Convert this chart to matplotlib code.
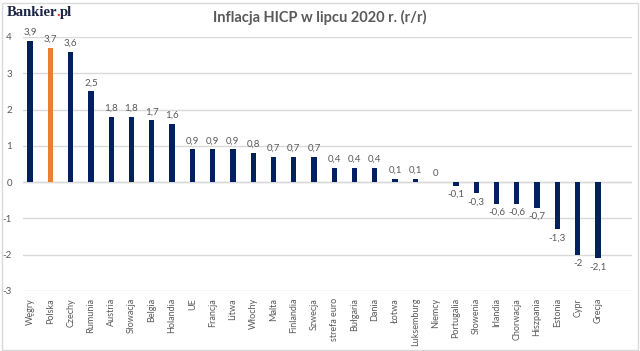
import matplotlib
matplotlib.use("Agg")
import matplotlib.pyplot as plt
from matplotlib.patches import Rectangle

categories = ["Węgry", "Polska", "Czechy", "Rumunia", "Austria", "Słowacja", "Belgia",
              "Holandia", "UE", "Francja", "Litwa", "Włochy", "Malta", "Finlandia",
              "Szwecja", "strefa euro", "Bułgaria", "Dania", "Łotwa", "Luksemburg",
              "Niemcy", "Portugalia", "Słowenia", "Irlandia", "Chorwacja", "Hiszpania",
              "Estonia", "Cypr", "Grecja"]
values = [3.9, 3.7, 3.6, 2.5, 1.8, 1.8, 1.7, 1.6, 0.9, 0.9, 0.9, 0.8, 0.7, 0.7,
          0.7, 0.4, 0.4, 0.4, 0.1, 0.1, 0.0, -0.1, -0.3, -0.6, -0.6, -0.7, -1.3,
          -2.0, -2.1]
highlight = "Polska"
yticks = [-3, -2, -1, 0, 1, 2, 3, 4]

NAVY = "#002060"
ORANGE = "#ED7D31"
GRAY = "#595959"

plt.rcParams['font.family'] = ['Lato', 'DejaVu Sans']

fig = plt.figure(figsize=(6.4, 3.51), dpi=100)
fig.patch.set_facecolor("white")

# outer frame
fig.add_artist(Rectangle((1.5/640, 1.5/351), 636/640, 347/351, transform=fig.transFigure,
                         fill=False, edgecolor="#d9d9d9", linewidth=1))

ax = fig.add_axes([23/640, 1-291/351, (632-23)/640, (291-37)/351])
x = list(range(len(categories)))
colors = [ORANGE if c == highlight else NAVY for c in categories]
ax.bar(x, values, width=0.26, color=colors, zorder=3)

ax.set_ylim(-3, 4)
ax.set_xlim(-0.35, len(categories) + 0.68)
ax.set_yticks(yticks)
ax.set_yticklabels([str(t) for t in yticks])
ax.yaxis.grid(True, color="#d9d9d9", linewidth=1, zorder=0)
ax.axhline(0, color="#d9d9d9", linewidth=1, zorder=1)
for s in ax.spines.values():
    s.set_visible(False)
ax.tick_params(axis="y", length=0, labelsize=7, labelcolor=GRAY, pad=8)
ax.tick_params(axis="x", length=0, labelsize=6.5, labelcolor=GRAY, pad=5)
ax.set_xticks(x)
ax.set_xticklabels(categories, rotation=90, va="top", ha="center")

for xi, v in zip(x, values):
    lab = ("%g" % v).replace(".", ",")
    if v >= 0:
        ax.annotate(lab, (xi, v), xytext=(0, 3), textcoords="offset points",
                    ha="center", va="bottom", fontsize=7, color=GRAY)
    else:
        ax.annotate(lab, (xi, v), xytext=(0, -3), textcoords="offset points",
                    ha="center", va="top", fontsize=7, color=GRAY)

fig.text(0.5, 1-17/351, "Inflacja HICP w lipcu 2020 r. (r/r)", ha="center", va="center",
         fontsize=10.5, fontweight="bold", color=GRAY)

# white behind logo to interrupt frame
fig.add_artist(Rectangle((0, 1-20/351), 70/640, 20/351, transform=fig.transFigure,
                         facecolor="white", edgecolor="none", zorder=0.5))

# logo "Bankier.pl" with red dot, pieces placed by measured ink widths
logo_kw = dict(va="baseline", fontsize=10.5, fontweight="bold",
               family=["Liberation Serif"], zorder=5)
lx, ly = 7/640, 1-16/351
renderer = fig.canvas.get_renderer()

def width_px(s):
    t = fig.text(0, 0, s, **logo_kw)
    w = t.get_window_extent(renderer).width
    t.remove()
    return w

w_dot_end = width_px("Bankier.")
w_full = width_px("Bankier.pl")
fig.text(lx, ly, "Bankier", ha="left", color="#1b2440", **logo_kw)
fig.text(lx + w_dot_end / 640, ly, ".", ha="right", color="#e3342f", **logo_kw)
fig.text(lx + w_full / 640, ly, "pl", ha="right", color="#1b2440", **logo_kw)

fig.savefig("out.png", dpi=100, facecolor="white")
